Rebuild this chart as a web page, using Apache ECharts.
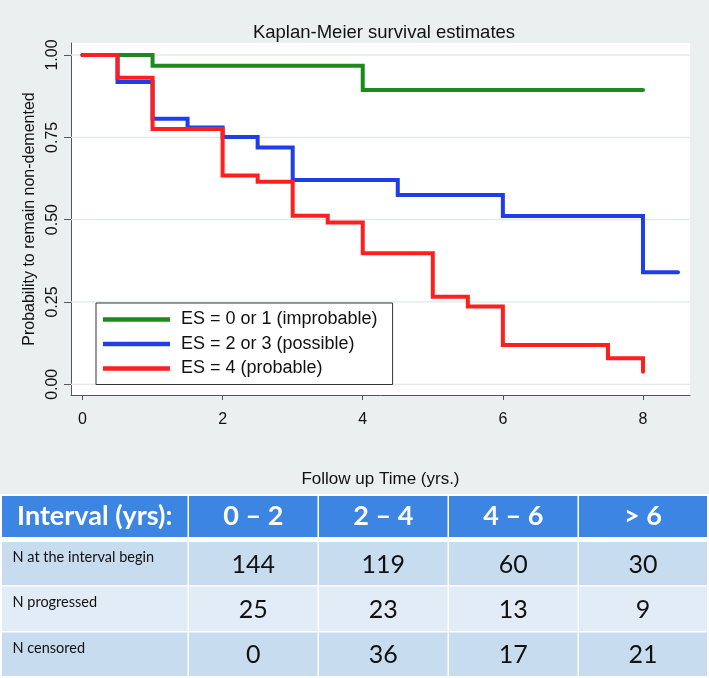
<!DOCTYPE html>
<html><head><meta charset="utf-8">
<script src="https://cdn.jsdelivr.net/npm/echarts@6/dist/echarts.min.js"></script>
<style>html,body{margin:0;padding:0;background:#eaf0f0}#c{width:709px;height:678px}</style>
</head><body><div id="c"></div>
<script>
// ---- data ----
const seriesNames = ['ES = 0 or 1 (improbable)', 'ES = 2 or 3 (possible)', 'ES = 4 (probable)'];
const seriesColors = ['#1e8a1e', '#1f3ee8', '#ff1f1f'];
const greenTime = [0, 1, 4, 8];
const greenSurv = [1, 0.967, 0.894, 0.894];
const blueTime = [0, 0.5, 1, 1.5, 2, 2.5, 3, 4.5, 6, 8, 8.5];
const blueSurv = [1, 0.918, 0.806, 0.780, 0.751, 0.719, 0.620, 0.575, 0.511, 0.340, 0.340];
const redTime = [0, 0.5, 1, 2, 2.5, 3, 3.5, 4, 5, 5.5, 6, 7.5, 8];
const redSurv = [1, 0.931, 0.775, 0.634, 0.615, 0.512, 0.491, 0.398, 0.266, 0.236, 0.119, 0.079, 0.038];
const xTicks = [0, 2, 4, 6, 8];
const yTicks = [0, 0.25, 0.5, 0.75, 1];
const titleText = 'Kaplan-Meier survival estimates';
const xName = 'Follow up Time (yrs.)';
const yName = 'Probability to remain non-demented';
const intervalHeaders = ['Interval (yrs):', '0 – 2', '2 – 4', '4 – 6', '> 6'];
const rowLabels = ['N at the interval begin', 'N progressed', 'N censored'];
const nAtBegin = [144, 119, 60, 30];
const nProgressed = [25, 23, 13, 9];
const nCensored = [0, 36, 17, 21];

const X_MIN = -0.164, X_MAX = 8.671, Y_MIN = -0.0325, Y_MAX = 1.0364;
const zip = (a, b) => a.map((v, i) => [v, b[i]]);
const curves = [zip(greenTime, greenSurv), zip(blueTime, blueSurv), zip(redTime, redSurv)];

// ---- table (graphic) ----
const colX0 = [2, 189, 319, 449, 579];
const colX1 = [187.5, 317.5, 447.5, 577.5, 707];
const rowY0 = [542, 586.5, 632.5];
const rowY1 = [585, 631, 676];
const rowFill = ['#c8dcf0', '#e2ecf6', '#c8dcf0'];
const rowValues = [nAtBegin, nProgressed, nCensored];
const tableFont = 'Lato, "Open Sans", sans-serif';
const graphics = [];
graphics.push({type: 'rect', shape: {x: 0, y: 494, width: 709, height: 184}, style: {fill: '#ffffff'}, silent: true});
for (let c = 0; c < 5; c++) {
  graphics.push({type: 'rect', shape: {x: colX0[c], y: 496, width: colX1[c] - colX0[c], height: 41}, style: {fill: '#3d85e2'}, silent: true});
  graphics.push({type: 'text', x: (colX0[c] + colX1[c]) / 2, y: 516.5, silent: true,
    style: {text: intervalHeaders[c], fill: '#ffffff', fontSize: 27, fontWeight: 'bold', fontFamily: tableFont, align: 'center', verticalAlign: 'middle'}});
}
for (let r = 0; r < 3; r++) {
  for (let c = 0; c < 5; c++) {
    graphics.push({type: 'rect', shape: {x: colX0[c], y: rowY0[r], width: colX1[c] - colX0[c], height: rowY1[r] - rowY0[r]}, style: {fill: rowFill[r]}, silent: true});
  }
  graphics.push({type: 'text', x: 12.5, y: rowY0[r] + 8, silent: true,
    style: {text: rowLabels[r], fill: '#111', fontSize: 14.5, fontFamily: tableFont, align: 'left', verticalAlign: 'top'}});
  for (let c = 0; c < 4; c++) {
    graphics.push({type: 'text', x: (colX0[c + 1] + colX1[c + 1]) / 2, y: (rowY0[r] + rowY1[r]) / 2 + 1, silent: true,
      style: {text: String(rowValues[r][c]), fill: '#111', fontSize: 25, fontFamily: tableFont, align: 'center', verticalAlign: 'middle'}});
  }
}

const chartFont = '"Liberation Sans", Arial, sans-serif';
const chart = echarts.init(document.getElementById('c'), null, {renderer: 'canvas'});
const gridSeries = yTicks.map((v, i) => ({
  name: 'grid' + i, type: 'line', data: [[X_MIN, v], [X_MAX, v]], showSymbol: false, symbol: 'none',
  z: 1, silent: true, animation: false, lineStyle: {color: '#e3e8e8', width: 1.3}
}));
const lineSeries = curves.map((d, i) => ({
  name: seriesNames[i], type: 'line', step: 'end', data: d, showSymbol: false, symbol: 'none',
  z: 3 + i, silent: true, animation: false,
  lineStyle: {color: seriesColors[i], width: 4, cap: 'round', join: 'miter'},
  itemStyle: {color: seriesColors[i]}
}));
const option = {
  backgroundColor: '#eaf0f0',
  animation: false,
  textStyle: {fontFamily: chartFont},
  title: {text: titleText, left: 379, top: 18, textAlign: 'center',
    textStyle: {fontFamily: chartFont, fontSize: 18.5, fontWeight: 'normal', color: '#111'}},
  grid: {left: 71, top: 43, width: 619, height: 352, show: true, backgroundColor: '#ffffff', borderWidth: 0, containLabel: false},
  legend: {
    data: seriesNames, orient: 'vertical', left: 96, top: 303, icon: 'rect', itemWidth: 67, itemHeight: 4.5,
    itemGap: 3.5, padding: [6, 15, 5.5, 7], backgroundColor: '#ffffff', borderColor: '#333', borderWidth: 1,
    borderRadius: 0, selectedMode: false,
    textStyle: {fontFamily: chartFont, fontSize: 18, lineHeight: 21, color: '#111', padding: [0, 0, 0, 6]}
  },
  xAxis: {
    type: 'value', min: X_MIN, max: X_MAX, name: xName, nameLocation: 'middle', nameGap: 76,
    nameTextStyle: {fontFamily: chartFont, fontSize: 17, color: '#111'},
    axisLine: {show: true, onZero: false, lineStyle: {color: '#555', width: 1}},
    axisTick: {show: true, length: 5, customValues: xTicks, lineStyle: {color: '#555'}},
    axisLabel: {customValues: xTicks, fontSize: 16, color: '#111', margin: 17, formatter: v => String(v)},
    splitLine: {show: false}
  },
  yAxis: {
    type: 'value', min: Y_MIN, max: Y_MAX, name: yName, nameLocation: 'middle', nameGap: 24,
    nameTextStyle: {fontFamily: chartFont, fontSize: 16, color: '#111'},
    axisLine: {show: true, onZero: false, lineStyle: {color: '#555', width: 1}},
    axisTick: {show: true, length: 7, customValues: yTicks, lineStyle: {color: '#555'}},
    axisLabel: {customValues: yTicks, rotate: 90, fontSize: 16, color: '#111', margin: 10, formatter: v => v.toFixed(2)},
    splitLine: {show: false}
  },
  series: gridSeries.concat(lineSeries),
  graphic: graphics
};
chart.setOption(option);
</script></body></html>
